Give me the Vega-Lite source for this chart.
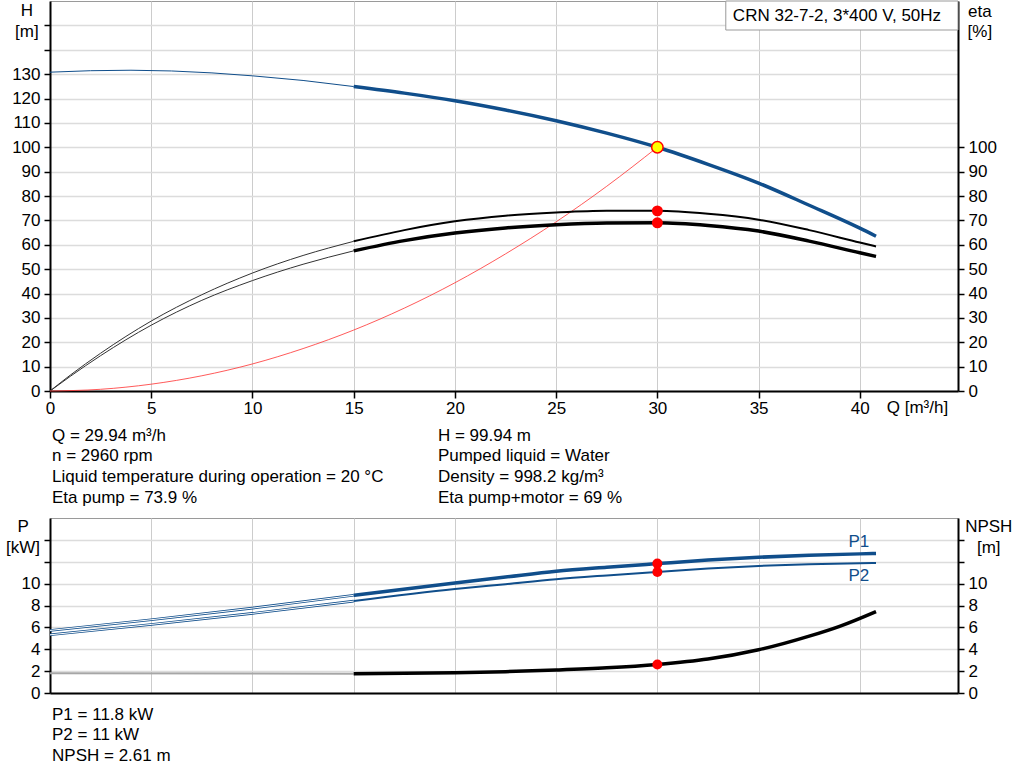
{
  "$schema": "https://vega.github.io/schema/vega-lite/v6.json",
  "padding": {"left": 5, "top": 0, "right": 0, "bottom": 0},
  "bounds": "flush",
  "spacing": 127,
  "background": "white",
  "config": {
    "font": "Liberation Sans",
    "view": {"stroke": "#9a9a9a", "strokeWidth": 1},
    "axis": {
      "labelFont": "Liberation Sans", "labelFontSize": 17, "labelColor": "#000",
      "domainColor": "#000", "domainWidth": 2, "tickColor": "#000", "tickWidth": 1.5,
      "tickSize": 6, "labelPadding": 4, "title": null, "labelFlush": false
    },
    "text": {"font": "Liberation Sans", "fontSize": 17, "baseline": "middle", "color": "#000"}
  },
  "datasets": {
    "curves": [
      {"c": "H", "Q": 0, "v": 130.8}, {"c": "H", "Q": 2, "v": 131.4}, {"c": "H", "Q": 4, "v": 131.6},
      {"c": "H", "Q": 6, "v": 131.3}, {"c": "H", "Q": 8, "v": 130.5}, {"c": "H", "Q": 10, "v": 129.3},
      {"c": "H", "Q": 12.5, "v": 127.4}, {"c": "H", "Q": 15, "v": 124.9}, {"c": "H", "Q": 17.5, "v": 122.2},
      {"c": "H", "Q": 20, "v": 119.1}, {"c": "H", "Q": 22.5, "v": 115.3}, {"c": "H", "Q": 25, "v": 110.9},
      {"c": "H", "Q": 27.5, "v": 105.8}, {"c": "H", "Q": 30, "v": 100}, {"c": "H", "Q": 32.5, "v": 93},
      {"c": "H", "Q": 35, "v": 85.3}, {"c": "H", "Q": 37.5, "v": 76.2}, {"c": "H", "Q": 40, "v": 66.8},
      {"c": "H", "Q": 40.8, "v": 63.5},
      {"c": "E1", "Q": 0, "v": 0}, {"c": "E1", "Q": 1, "v": 6.5}, {"c": "E1", "Q": 2.5, "v": 15.5},
      {"c": "E1", "Q": 5, "v": 28.7}, {"c": "E1", "Q": 7.5, "v": 39.5}, {"c": "E1", "Q": 10, "v": 48.4},
      {"c": "E1", "Q": 12.5, "v": 55.6}, {"c": "E1", "Q": 15, "v": 61.4}, {"c": "E1", "Q": 17.5, "v": 66},
      {"c": "E1", "Q": 20, "v": 69.6}, {"c": "E1", "Q": 22.5, "v": 71.9}, {"c": "E1", "Q": 25, "v": 73.2},
      {"c": "E1", "Q": 27.5, "v": 73.9}, {"c": "E1", "Q": 30, "v": 73.9}, {"c": "E1", "Q": 32.5, "v": 72.7},
      {"c": "E1", "Q": 35, "v": 70.3}, {"c": "E1", "Q": 37.5, "v": 66}, {"c": "E1", "Q": 40, "v": 60.9},
      {"c": "E1", "Q": 40.8, "v": 59.3},
      {"c": "E2", "Q": 0, "v": 0}, {"c": "E2", "Q": 1, "v": 6}, {"c": "E2", "Q": 2.5, "v": 14.5},
      {"c": "E2", "Q": 5, "v": 27}, {"c": "E2", "Q": 7.5, "v": 37.2}, {"c": "E2", "Q": 10, "v": 45.3},
      {"c": "E2", "Q": 12.5, "v": 52}, {"c": "E2", "Q": 15, "v": 57.5}, {"c": "E2", "Q": 17.5, "v": 61.7},
      {"c": "E2", "Q": 20, "v": 64.8}, {"c": "E2", "Q": 22.5, "v": 66.9}, {"c": "E2", "Q": 25, "v": 68.2},
      {"c": "E2", "Q": 27.5, "v": 68.9}, {"c": "E2", "Q": 30, "v": 69}, {"c": "E2", "Q": 32.5, "v": 67.9},
      {"c": "E2", "Q": 35, "v": 65.6}, {"c": "E2", "Q": 37.5, "v": 61.5}, {"c": "E2", "Q": 40, "v": 56.7},
      {"c": "E2", "Q": 40.8, "v": 55.2},
      {"c": "SYS", "Q": 0, "v": 0}, {"c": "SYS", "Q": 2.5, "v": 0.7}, {"c": "SYS", "Q": 5, "v": 2.8},
      {"c": "SYS", "Q": 7.5, "v": 6.25}, {"c": "SYS", "Q": 10, "v": 11.1}, {"c": "SYS", "Q": 12.5, "v": 17.4},
      {"c": "SYS", "Q": 15, "v": 25}, {"c": "SYS", "Q": 17.5, "v": 34}, {"c": "SYS", "Q": 20, "v": 44.4},
      {"c": "SYS", "Q": 22.5, "v": 56.25}, {"c": "SYS", "Q": 25, "v": 69.4}, {"c": "SYS", "Q": 27.5, "v": 84},
      {"c": "SYS", "Q": 30, "v": 100}
    ],
    "lower": [
      {"c": "P1", "Q": 0, "v": 5.72}, {"c": "P1", "Q": 5, "v": 6.7}, {"c": "P1", "Q": 10, "v": 7.76},
      {"c": "P1", "Q": 15, "v": 8.93}, {"c": "P1", "Q": 20, "v": 10.06}, {"c": "P1", "Q": 22.5, "v": 10.6},
      {"c": "P1", "Q": 25, "v": 11.13}, {"c": "P1", "Q": 27.5, "v": 11.5}, {"c": "P1", "Q": 30, "v": 11.83},
      {"c": "P1", "Q": 32.5, "v": 12.15}, {"c": "P1", "Q": 35, "v": 12.41}, {"c": "P1", "Q": 37.5, "v": 12.6},
      {"c": "P1", "Q": 40, "v": 12.72}, {"c": "P1", "Q": 40.8, "v": 12.75},
      {"c": "P2", "Q": 0, "v": 5.32}, {"c": "P2", "Q": 5, "v": 6.27}, {"c": "P2", "Q": 10, "v": 7.28},
      {"c": "P2", "Q": 15, "v": 8.4}, {"c": "P2", "Q": 20, "v": 9.5}, {"c": "P2", "Q": 22.5, "v": 9.95},
      {"c": "P2", "Q": 25, "v": 10.4}, {"c": "P2", "Q": 27.5, "v": 10.75}, {"c": "P2", "Q": 30, "v": 11.07},
      {"c": "P2", "Q": 32.5, "v": 11.38}, {"c": "P2", "Q": 35, "v": 11.62}, {"c": "P2", "Q": 37.5, "v": 11.78},
      {"c": "P2", "Q": 40, "v": 11.87}, {"c": "P2", "Q": 40.8, "v": 11.89},
      {"c": "NPSH", "Q": 0, "v": 1.8}, {"c": "NPSH", "Q": 15, "v": 1.77}, {"c": "NPSH", "Q": 17.5, "v": 1.8},
      {"c": "NPSH", "Q": 20, "v": 1.86}, {"c": "NPSH", "Q": 22.5, "v": 1.95}, {"c": "NPSH", "Q": 25, "v": 2.1},
      {"c": "NPSH", "Q": 27.5, "v": 2.3}, {"c": "NPSH", "Q": 30, "v": 2.61}, {"c": "NPSH", "Q": 32.5, "v": 3.1},
      {"c": "NPSH", "Q": 35, "v": 3.95}, {"c": "NPSH", "Q": 37.5, "v": 5.2}, {"c": "NPSH", "Q": 39, "v": 6.1},
      {"c": "NPSH", "Q": 40.8, "v": 7.45}
    ]
  },
  "vconcat": [
    {
      "width": 908,
      "height": 390,
      "encoding": {
        "x": {
          "field": "Q", "type": "quantitative",
          "scale": {"domain": [0, 44.85], "nice": false, "zero": false},
          "axis": {"values": [0, 5, 10, 15, 20, 25, 30, 35, 40], "grid": true, "gridColor": "#cccccc", "tickSize": 7, "labelPadding": 2}
        }
      },
      "resolve": {"axis": {"y": "independent"}},
      "layer": [
        {
          "data": {"name": "curves"},
          "transform": [{"filter": "datum.c == 'H' && datum.Q <= 15"}],
          "mark": {"type": "line", "color": "#104e8b", "strokeWidth": 1},
          "encoding": {
            "y": {"field": "v", "type": "quantitative", "scale": {"domain": [0, 160], "nice": false},
              "axis": {"values": [0, 10, 20, 30, 40, 50, 60, 70, 80, 90, 100, 110, 120, 130, 140, 150],
                "labelExpr": "datum.value > 130 ? '' : datum.label", "grid": true, "gridColor": "#dcdcdc", "gridWidth": 1.5}}
          }
        },
        {
          "data": {"name": "curves"},
          "transform": [{"filter": "datum.c == 'E1' && datum.Q <= 15"}],
          "mark": {"type": "line", "color": "#333333", "strokeWidth": 1, "interpolate": "monotone"},
          "encoding": {
            "y": {"field": "v", "type": "quantitative", "scale": {"domain": [0, 160], "nice": false},
              "axis": {"orient": "right", "values": [0, 10, 20, 30, 40, 50, 60, 70, 80, 90, 100], "grid": false}}
          }
        },
        {
          "data": {"name": "curves"},
          "transform": [{"filter": "datum.c == 'E2' && datum.Q <= 15"}],
          "mark": {"type": "line", "color": "#333333", "strokeWidth": 1, "interpolate": "monotone"},
          "encoding": {"y": {"field": "v", "type": "quantitative", "scale": {"domain": [0, 160], "nice": false}, "axis": null}}
        },
        {
          "data": {"name": "curves"},
          "transform": [{"filter": "datum.c == 'SYS'"}],
          "mark": {"type": "line", "color": "#ff3030", "strokeWidth": 0.8, "interpolate": "monotone"},
          "encoding": {"y": {"field": "v", "type": "quantitative", "scale": {"domain": [0, 160], "nice": false}, "axis": null}}
        },
        {
          "data": {"name": "curves"},
          "transform": [{"filter": "datum.c == 'H' && datum.Q >= 15"}],
          "mark": {"type": "line", "color": "#104e8b", "strokeWidth": 3.5, "interpolate": "monotone"},
          "encoding": {"y": {"field": "v", "type": "quantitative", "scale": {"domain": [0, 160], "nice": false}, "axis": null}}
        },
        {
          "data": {"name": "curves"},
          "transform": [{"filter": "datum.c == 'E1' && datum.Q >= 15"}],
          "mark": {"type": "line", "color": "#000000", "strokeWidth": 2, "interpolate": "monotone"},
          "encoding": {"y": {"field": "v", "type": "quantitative", "scale": {"domain": [0, 160], "nice": false}, "axis": null}}
        },
        {
          "data": {"name": "curves"},
          "transform": [{"filter": "datum.c == 'E2' && datum.Q >= 15"}],
          "mark": {"type": "line", "color": "#000000", "strokeWidth": 3.5, "interpolate": "monotone"},
          "encoding": {"y": {"field": "v", "type": "quantitative", "scale": {"domain": [0, 160], "nice": false}, "axis": null}}
        },
        {
          "data": {"values": [{"Q": 30, "v": 73.9}, {"Q": 30, "v": 69}]},
          "mark": {"type": "circle", "color": "#ff0000", "size": 120, "opacity": 1},
          "encoding": {"y": {"field": "v", "type": "quantitative", "scale": {"domain": [0, 160], "nice": false}, "axis": null}}
        },
        {
          "data": {"values": [{"Q": 30, "v": 100}]},
          "mark": {"type": "point", "shape": "circle", "filled": true, "fill": "#ffff00", "stroke": "#ff0000", "strokeWidth": 1.5, "size": 130, "opacity": 1},
          "encoding": {"y": {"field": "v", "type": "quantitative", "scale": {"domain": [0, 160], "nice": false}, "axis": null}}
        },
        {
          "data": {"values": [{"Q": 33.38, "Q2": 44.85, "v": 160, "v2": 148.1}]},
          "mark": {"type": "rect", "fill": "white", "stroke": "#9a9a9a", "strokeWidth": 1},
          "encoding": {
            "x": {"field": "Q", "type": "quantitative"},
            "x2": {"field": "Q2"},
            "y": {"field": "v", "type": "quantitative", "scale": {"domain": [0, 160], "nice": false}, "axis": null},
            "y2": {"field": "v2"}
          }
        },
        {
          "data": {"values": [
            {"t": "CRN 32-7-2, 3*400 V, 50Hz", "Q": 33.73, "v": 153.8},
            {"t": "Q = 29.94 m³/h", "Q": 0.1, "v": -18.4},
            {"t": "n = 2960 rpm", "Q": 0.1, "v": -26.8},
            {"t": "Liquid temperature during operation = 20 °C", "Q": 0.1, "v": -35.2},
            {"t": "Eta pump = 73.9 %", "Q": 0.1, "v": -43.8},
            {"t": "H = 99.94 m", "Q": 19.16, "v": -18.4},
            {"t": "Pumped liquid = Water", "Q": 19.16, "v": -26.8},
            {"t": "Density = 998.2 kg/m³", "Q": 19.16, "v": -35.2},
            {"t": "Eta pump+motor = 69 %", "Q": 19.16, "v": -43.8},
            {"t": "Q [m³/h]", "Q": 41.33, "v": -6.96}
          ]},
          "mark": {"type": "text", "align": "left"},
          "encoding": {
            "y": {"field": "v", "type": "quantitative", "scale": {"domain": [0, 160], "nice": false}, "axis": null},
            "text": {"field": "t"}
          }
        },
        {
          "data": {"values": [
            {"t": "H", "Q": -1.14, "v": 155.8},
            {"t": "[m]", "Q": -1.14, "v": 147.3},
            {"t": "eta", "Q": 45.93, "v": 155.5},
            {"t": "[%]", "Q": 45.93, "v": 147.3}
          ]},
          "mark": {"type": "text", "align": "center"},
          "encoding": {
            "y": {"field": "v", "type": "quantitative", "scale": {"domain": [0, 160], "nice": false}, "axis": null},
            "text": {"field": "t"}
          }
        }
      ]
    },
    {
      "width": 908,
      "height": 175,
      "encoding": {
        "x": {
          "field": "Q", "type": "quantitative",
          "scale": {"domain": [0, 44.85], "nice": false, "zero": false},
          "axis": {"values": [0, 5, 10, 15, 20, 25, 30, 35, 40], "grid": true, "gridColor": "#cccccc", "labels": false, "ticks": false}
        }
      },
      "resolve": {"axis": {"y": "independent"}},
      "layer": [
        {
          "data": {"name": "lower"},
          "transform": [{"filter": "datum.c == 'NPSH' && datum.Q <= 15"}],
          "mark": {"type": "line", "color": "#a6a6a6", "strokeWidth": 2},
          "encoding": {
            "y": {"field": "v", "type": "quantitative", "scale": {"domain": [0, 16], "nice": false},
              "axis": {"values": [0, 2, 4, 6, 8, 10, 12, 14], "labelExpr": "datum.value > 10 ? '' : datum.label",
                "grid": true, "gridColor": "#dcdcdc", "gridWidth": 1.5}}
          }
        },
        {
          "data": {"name": "lower"},
          "transform": [{"filter": "datum.c == 'P1' && datum.Q <= 15"}],
          "mark": {"type": "line", "color": "#104e8b", "strokeWidth": 2.6},
          "encoding": {
            "y": {"field": "v", "type": "quantitative", "scale": {"domain": [0, 16], "nice": false},
              "axis": {"orient": "right", "values": [0, 2, 4, 6, 8, 10, 12, 14], "labelExpr": "datum.value > 10 ? '' : datum.label", "grid": false}}
          }
        },
        {
          "data": {"name": "lower"},
          "transform": [{"filter": "datum.c == 'P2' && datum.Q <= 15"}],
          "mark": {"type": "line", "color": "#104e8b", "strokeWidth": 2.6},
          "encoding": {"y": {"field": "v", "type": "quantitative", "scale": {"domain": [0, 16], "nice": false}, "axis": null}}
        },
        {
          "data": {"name": "lower"},
          "transform": [{"filter": "(datum.c == 'P1' || datum.c == 'P2') && datum.Q <= 15"}],
          "mark": {"type": "line", "color": "#ffffff", "strokeWidth": 1},
          "encoding": {
            "y": {"field": "v", "type": "quantitative", "scale": {"domain": [0, 16], "nice": false}, "axis": null},
            "detail": {"field": "c"}
          }
        },
        {
          "data": {"name": "lower"},
          "transform": [{"filter": "datum.c == 'P1' && datum.Q >= 15"}],
          "mark": {"type": "line", "color": "#104e8b", "strokeWidth": 3.5, "interpolate": "monotone"},
          "encoding": {"y": {"field": "v", "type": "quantitative", "scale": {"domain": [0, 16], "nice": false}, "axis": null}}
        },
        {
          "data": {"name": "lower"},
          "transform": [{"filter": "datum.c == 'P2' && datum.Q >= 15"}],
          "mark": {"type": "line", "color": "#104e8b", "strokeWidth": 2, "interpolate": "monotone"},
          "encoding": {"y": {"field": "v", "type": "quantitative", "scale": {"domain": [0, 16], "nice": false}, "axis": null}}
        },
        {
          "data": {"name": "lower"},
          "transform": [{"filter": "datum.c == 'NPSH' && datum.Q >= 15"}],
          "mark": {"type": "line", "color": "#000000", "strokeWidth": 3.5, "interpolate": "monotone"},
          "encoding": {"y": {"field": "v", "type": "quantitative", "scale": {"domain": [0, 16], "nice": false}, "axis": null}}
        },
        {
          "data": {"values": [{"Q": 30, "v": 11.83}, {"Q": 30, "v": 11.07}, {"Q": 30, "v": 2.61}]},
          "mark": {"type": "circle", "color": "#ff0000", "size": 100, "opacity": 1},
          "encoding": {"y": {"field": "v", "type": "quantitative", "scale": {"domain": [0, 16], "nice": false}, "axis": null}}
        },
        {
          "data": {"values": [
            {"t": "P1 = 11.8 kW", "Q": 0.1, "v": -1.99},
            {"t": "P2 = 11 kW", "Q": 0.1, "v": -3.83},
            {"t": "NPSH = 2.61 m", "Q": 0.1, "v": -5.75}
          ]},
          "mark": {"type": "text", "align": "left"},
          "encoding": {
            "y": {"field": "v", "type": "quantitative", "scale": {"domain": [0, 16], "nice": false}, "axis": null},
            "text": {"field": "t"}
          }
        },
        {
          "data": {"values": [
            {"t": "P", "Q": -1.33, "v": 15.2},
            {"t": "[kW]", "Q": -1.33, "v": 13.3},
            {"t": "NPSH", "Q": 46.37, "v": 15.14},
            {"t": "[m]", "Q": 46.37, "v": 13.27}
          ]},
          "mark": {"type": "text", "align": "center"},
          "encoding": {
            "y": {"field": "v", "type": "quantitative", "scale": {"domain": [0, 16], "nice": false}, "axis": null},
            "text": {"field": "t"}
          }
        },
        {
          "data": {"values": [
            {"t": "P1", "Q": 39.95, "v": 13.8},
            {"t": "P2", "Q": 39.95, "v": 10.67}
          ]},
          "mark": {"type": "text", "align": "center", "color": "#104e8b"},
          "encoding": {
            "y": {"field": "v", "type": "quantitative", "scale": {"domain": [0, 16], "nice": false}, "axis": null},
            "text": {"field": "t"}
          }
        }
      ]
    }
  ]
}
